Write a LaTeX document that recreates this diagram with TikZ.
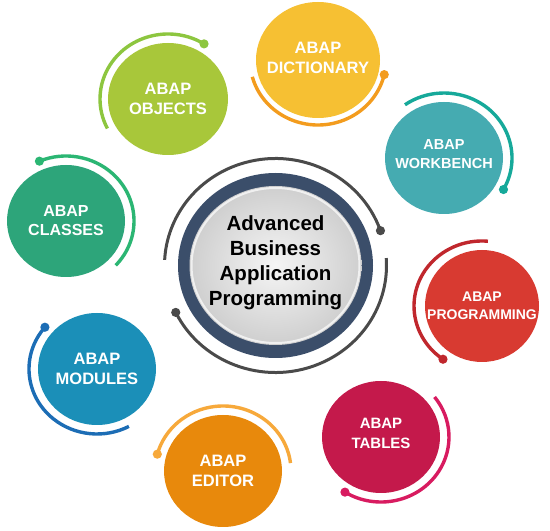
\documentclass[tikz,border=0pt]{standalone}
\usepackage{fontspec}
\setmainfont{Liberation Sans}
\usetikzlibrary{shapes.geometric}
\definecolor{ringblue}{HTML}{3B4E6A}
\definecolor{arcgrey}{HTML}{4A4A4A}
\definecolor{objfill}{HTML}{A8C73A}\definecolor{objarc}{HTML}{8DC63F}
\definecolor{dicfill}{HTML}{F6C033}\definecolor{dicarc}{HTML}{F39C1E}
\definecolor{wrkfill}{HTML}{45ABB1}\definecolor{wrkarc}{HTML}{16A99A}
\definecolor{clsfill}{HTML}{2DA57A}\definecolor{clsarc}{HTML}{2BB673}
\definecolor{prgfill}{HTML}{D83A31}\definecolor{prgarc}{HTML}{C0272D}
\definecolor{modfill}{HTML}{1B8FB8}\definecolor{modarc}{HTML}{1C6DB5}
\definecolor{edtfill}{HTML}{E8890C}\definecolor{edtarc}{HTML}{F7A93B}
\definecolor{tabfill}{HTML}{C4194B}\definecolor{tabarc}{HTML}{D81B60}
\newcommand\satarc[5]{%
  \draw[satline,#2] ([shift={(#3:68 and 65)}]#1.center) arc[start angle=#3, end angle=#4, x radius=68, y radius=65];
  \fill[#2] ([shift={(#5:68 and 65)}]#1.center) circle[radius=4.6];}
\begin{document}
\begin{tikzpicture}[x=1pt,y=1pt,
  sat/.style={ellipse, inner sep=0pt, minimum width=118pt, minimum height=112pt},
  sattext/.style={text=white, align=center, inner sep=0pt, font=\bfseries\fontsize{16}{19}\selectfont},
  satline/.style={line width=3.4pt},
  greyarc/.style={line width=3pt, arcgrey}]
\useasboundingbox (0,0) rectangle (550,531);
\fill[white] (0,0) rectangle (550,531);

% central element
\node[ellipse, fill=ringblue, minimum width=195pt, minimum height=185pt, inner sep=0pt] (ring) at (275.5,265.5) {};
\node[ellipse, inner sep=0pt, minimum width=172pt, minimum height=159pt,
      inner color=white!92!gray, outer color=gray!38] (core) at (ring.center) {};
\draw[white, line width=2pt, opacity=.7] (ring.center) ellipse[x radius=84, y radius=77.5];
\node[align=center, font=\bfseries\fontsize{20.5}{25}\selectfont, text=black] (title) at (275.5,268)
  {Advanced\\Business\\Application\\Programming};
\draw[greyarc] ([shift={(19:111 and 107)}]ring.center) arc[start angle=19, end angle=177, x radius=111, y radius=107];
\fill[arcgrey] ([shift={(19:111 and 107)}]ring.center) circle[radius=4.6];
\draw[greyarc] ([shift={(206:111 and 107)}]ring.center) arc[start angle=206, end angle=364, x radius=111, y radius=107];
\fill[arcgrey] ([shift={(206:111 and 107)}]ring.center) circle[radius=4.6];

% satellites
\node[sat, fill=objfill, minimum width=120pt] (obj) at (168,432) {};
\node[sattext, font=\bfseries\fontsize{16.5}{19.5}\selectfont] (objt) at (obj.center) {ABAP\\OBJECTS};
\node[sat, fill=dicfill, minimum width=124pt, minimum height=116pt] (dic) at (318,471) {};
\node[sattext, font=\bfseries\fontsize{16.5}{20}\selectfont] (dict) at ([yshift=2]dic.center) {ABAP\\DICTIONARY};
\node[sat, fill=wrkfill] (wrk) at (444,373) {};
\node[sattext, font=\bfseries\fontsize{14.5}{19}\selectfont] (wrkt) at ([yshift=4]wrk.center) {ABAP\\WORKBENCH};
\node[sat, fill=clsfill] (cls) at (66,310) {};
\node[sattext] (clst) at (cls.center) {ABAP\\CLASSES};
\node[sat, fill=prgfill, minimum width=114pt, minimum height=112pt] (prg) at (482,225) {};
\node[sattext, font=\bfseries\fontsize{14}{18.5}\selectfont] (prgt) at (prg.center) {ABAP\\PROGRAMMING};
\node[sat, fill=modfill] (mod) at (97,162) {};
\node[sattext, font=\bfseries\fontsize{16.5}{20}\selectfont] (modt) at (mod.center) {ABAP\\MODULES};
\node[sat, fill=edtfill] (edt) at (223,60) {};
\node[sattext, font=\bfseries\fontsize{16.5}{20}\selectfont] (edtt) at (edt.center) {ABAP\\EDITOR};
\node[sat, fill=tabfill] (tab) at (381,94) {};
\node[sattext, font=\bfseries\fontsize{15}{20}\selectfont] (tabt) at ([yshift=4]tab.center) {ABAP\\TABLES};

% satellite arcs
\satarc{obj}{objarc}{58}{207}{58}
\satarc{dic}{dicarc}{195}{347}{347}
\satarc{wrk}{wrkarc}{-29}{125}{-29}
\satarc{cls}{clsarc}{-43}{113}{113}
\satarc{prg}{prgarc}{85}{235}{235}
\satarc{mod}{modarc}{140}{298}{140}
\satarc{edt}{edtarc}{7}{165}{165}
\satarc{tab}{tabarc}{-122}{38}{-122}
\end{tikzpicture}
\end{document}
